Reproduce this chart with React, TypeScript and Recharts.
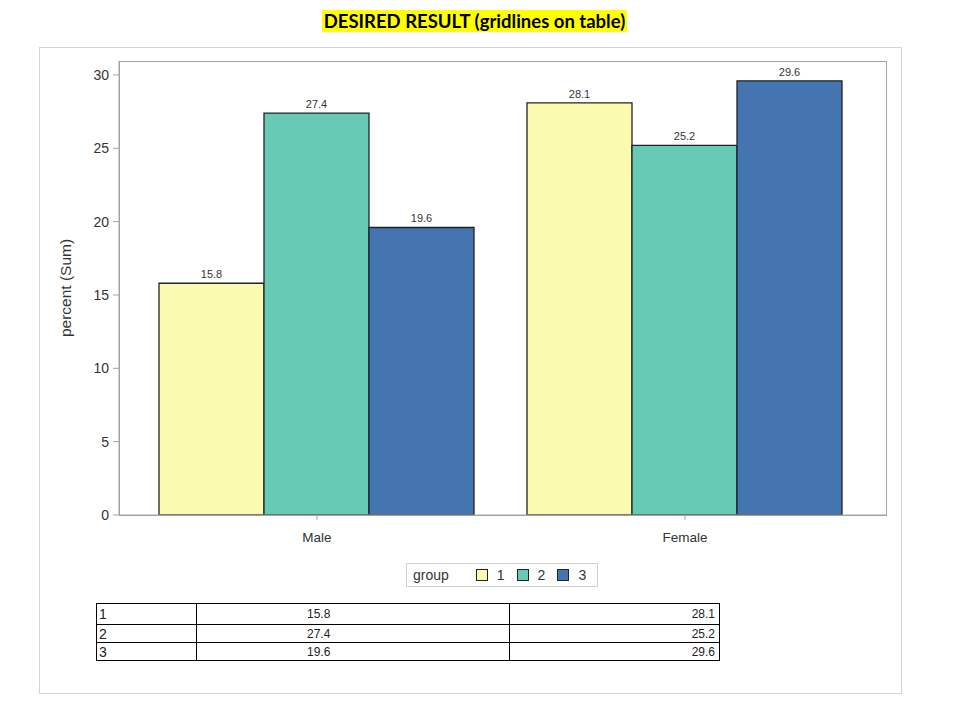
import React from "react";
import { BarChart, Bar, XAxis, YAxis, LabelList } from "recharts";

const categories = ["Male", "Female"];
const groupNames = ["1", "2", "3"];
const group1 = [15.8, 28.1];
const group2 = [27.4, 25.2];
const group3 = [19.6, 29.6];
const yTicks = [0, 5, 10, 15, 20, 25, 30];

const groupColors = ["#FBFBB0", "#67CAB5", "#4475B1"];
const seriesValues = [group1, group2, group3];

const data = categories.map((name, i) => ({
  name,
  g1: group1[i],
  g2: group2[i],
  g3: group3[i],
}));

const font = "'Liberation Sans', Arial, sans-serif";

const YLabel = (props: any) => {
  const vb = props.viewBox || {};
  const x = vb.x + 26;
  const y = vb.y + vb.height / 2;
  return (
    <text
      x={x}
      y={y}
      transform={`rotate(-90, ${x}, ${y})`}
      textAnchor="middle"
      dominantBaseline="central"
      fontSize={15.5}
      fill="#333"
      fontFamily={font}
    >
      percent (Sum)
    </text>
  );
};

export default function App() {
  return (
    <div style={{ position: "absolute", left: 0, top: 0, width: 961, height: 716, background: "#fff", fontFamily: font }}>
      {/* title */}
      <div style={{ position: "absolute", top: 10, left: 0, width: 949, textAlign: "center" }}>
        <span style={{ background: "#FFFF00", fontFamily: "Lato, 'Open Sans', sans-serif", fontWeight: 700, fontSize: 18.5, padding: "0 2px", color: "#000" }}>
          DESIRED RESULT (gridlines on table)
        </span>
      </div>

      {/* outer frame */}
      <div style={{ position: "absolute", left: 39, top: 47, width: 861, height: 645, border: "1px solid #d4d4d4" }} />

      <div style={{ position: "absolute", left: 39, top: 47 }}>
        <BarChart
          width={862}
          height={646}
          data={data}
          margin={{ top: 14, right: 15, bottom: 138, left: 0 }}
          barCategoryGap={26}
          barGap={0}
        >
          <XAxis
            dataKey="name"
            padding={{ left: 14, right: 17 }}
            stroke="#a3a3a3"
            tickSize={5}
            tickMargin={12}
            tick={{ fill: "#333", fontSize: 13.5, fontFamily: font }}
            height={40}
          />
          <YAxis
            width={80}
            domain={[0, 30.95]}
            ticks={yTicks}
            stroke="#a3a3a3"
            tickSize={6}
            tickMargin={4}
            tick={{ fill: "#333", fontSize: 14, fontFamily: font }}
            label={{ content: <YLabel /> }}
            allowDataOverflow
          />
          {["g1", "g2", "g3"].map((key, i) => (
            <Bar
              key={key}
              dataKey={key}
              fill={groupColors[i]}
              stroke="#222"
              strokeWidth={1.3}
              isAnimationActive={false}
            >
              <LabelList dataKey={key} position="top" offset={5} fill="#333" fontSize={11} fontFamily={font} />
            </Bar>
          ))}
        </BarChart>
      </div>

      {/* plot frame (top / right lines) */}
      <div style={{ position: "absolute", left: 119, top: 61, width: 766, height: 453, border: "1px solid #a3a3a3", pointerEvents: "none" }} />

      {/* legend */}
      <div
        style={{
          position: "absolute",
          left: 406,
          top: 563,
          width: 190,
          height: 22,
          border: "1px solid #d0d0d0",
          display: "flex",
          alignItems: "center",
          fontSize: 14,
          color: "#333",
        }}
      >
        <span style={{ marginLeft: 6, marginRight: 27 }}>group</span>
        {groupNames.map((g, i) => (
          <span key={g} style={{ display: "flex", alignItems: "center", marginRight: 12 }}>
            <span style={{ width: 10, height: 10, background: groupColors[i], border: "1px solid #222", marginRight: 9 }} />
            <span>{g}</span>
          </span>
        ))}
      </div>

      {/* data table */}
      <table
        style={{
          position: "absolute",
          left: 96,
          top: 603,
          width: 623,
          tableLayout: "fixed",
          borderCollapse: "collapse",
          fontSize: 12,
          fontFamily: "'Liberation Sans Narrow', 'Liberation Sans', Arial, sans-serif",
          color: "#222",
        }}
      >
        <colgroup>
          <col style={{ width: 100 }} />
          <col style={{ width: 313 }} />
          <col style={{ width: 210 }} />
        </colgroup>
        <tbody>
          {groupNames.map((g, r) => (
            <tr key={g} style={{ height: r === 0 ? 21 : 18 }}>
              <td style={{ border: "1px solid #000", padding: "0 2px", textAlign: "left", fontSize: 14 }}>{g}</td>
              <td style={{ border: "1px solid #000", padding: "0 0 0 110px", textAlign: "left" }}>
                {seriesValues[r][0].toFixed(1)}
              </td>
              <td style={{ border: "1px solid #000", padding: "0 4px 0 0", textAlign: "right" }}>
                {seriesValues[r][1].toFixed(1)}
              </td>
            </tr>
          ))}
        </tbody>
      </table>
    </div>
  );
}
